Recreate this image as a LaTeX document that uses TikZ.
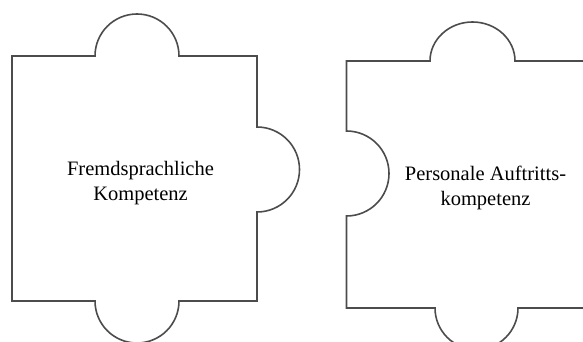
\documentclass[tikz,border=0pt]{standalone}
\usepackage{fontspec}
\setmainfont{Liberation Serif}
\begin{document}
\begin{tikzpicture}[x=1pt, y=1pt,
        piece/.style={draw=black!70, line width=1.6pt, line join=miter},
        txt/.style={align=center, font=\fontsize{20.5}{25}\selectfont, inner sep=0pt}]
                \clip (0,0) rectangle (583,342);
                % linkes Teil: Nase oben, rechts und unten
                \draw[piece] (12,286) -- (95,286) arc (180:0:42) -- (257,286)
                        -- (257,215) arc (90:-90:42.5) -- (257,41)
                        -- (179,41) arc (0:-180:42) -- (12,41) -- cycle;
                % rechtes Teil: Nase oben und unten, Loch links
                \draw[piece] (346.5,281) -- (430,281) arc [start angle=180, end angle=0, x radius=42.5, y radius=39]
                        -- (595,281) -- (595,34)
                        -- (518,34) arc (0:-180:41.5) -- (346.5,34)
                        -- (346.5,126) arc (-90:90:42.5) -- cycle;
                \node[txt] (fremd) at (140.5,159) {Fremdsprachliche\\Kompetenz};
                \node[txt] (auftritt) at (485.5,154) {Personale Auftritts-\\kompetenz};
        \end{tikzpicture}
\end{document}
